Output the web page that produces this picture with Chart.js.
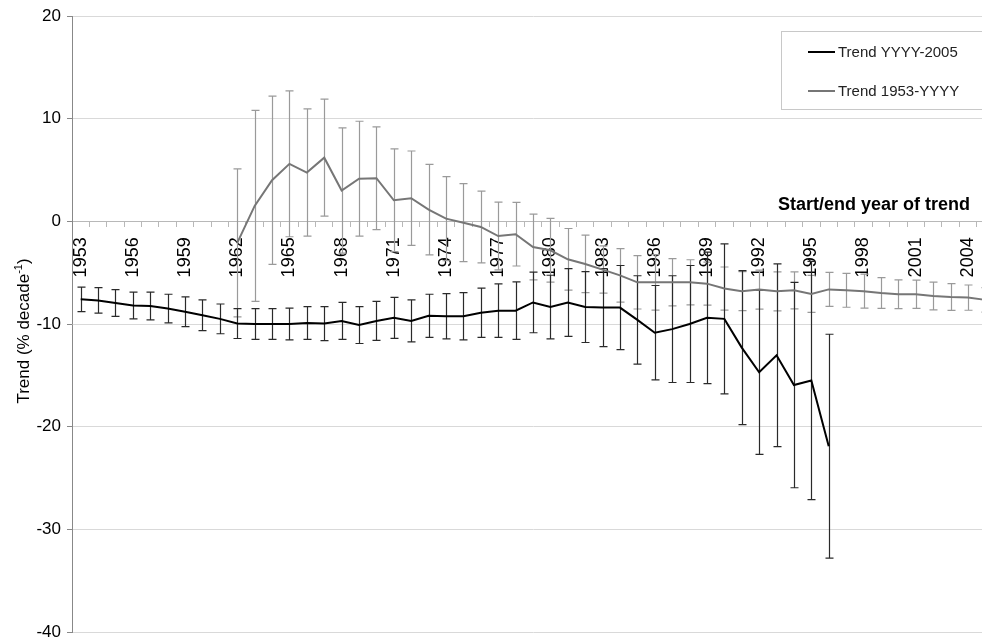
<!DOCTYPE html>
<html><head><meta charset="utf-8">
<script src="https://cdn.jsdelivr.net/npm/chart.js@4.4.1/dist/chart.umd.min.js"></script>
<style>html,body{margin:0;padding:0;overflow:hidden;background:#fff}canvas{display:block}</style>
</head><body>
<canvas id="c" width="1000" height="639"></canvas>
<script>
const years = ['1953','1954','1955','1956','1957','1958','1959','1960','1961','1962','1963','1964','1965','1966','1967','1968','1969','1970','1971','1972','1973','1974','1975','1976','1977','1978','1979','1980','1981','1982','1983','1984','1985','1986','1987','1988','1989','1990','1991','1992','1993','1994','1995','1996','1997','1998','1999','2000','2001','2002','2003','2004','2005'];
const shownTicks = ['1953','1956','1959','1962','1965','1968','1971','1974','1977','1980','1983','1986','1989','1992','1995','1998','2001','2004'];
const yTicks = [20,10,0,-10,-20,-30,-40];

// Trend YYYY-2005 (start year on x), 1953..2005
const trendToEnd = [-7.6,-7.7,-7.95,-8.2,-8.25,-8.5,-8.8,-9.15,-9.5,-9.96,-10.0,-10.0,-10.0,-9.9,-9.96,-9.7,-10.1,-9.7,-9.4,-9.7,-9.2,-9.25,-9.25,-8.9,-8.7,-8.7,-7.9,-8.35,-7.9,-8.35,-8.4,-8.4,-9.6,-10.85,-10.5,-10.0,-9.4,-9.5,-12.3,-14.7,-13.05,-15.95,-15.5,-21.9,null,null,null,null,null,null,null,null,null];
const errToEnd = [1.2,1.25,1.3,1.3,1.35,1.4,1.45,1.5,1.45,1.45,1.5,1.5,1.55,1.6,1.65,1.8,1.8,1.9,2.0,2.05,2.1,2.2,2.3,2.4,2.6,2.8,2.95,3.1,3.3,3.45,3.8,4.1,4.3,4.6,5.2,5.7,6.4,7.3,7.5,8.0,8.9,10.0,11.6,10.9,null,null,null,null,null,null,null,null,null];

// Trend 1953-YYYY (end year on x), 1953..2005
const trendFromStart = [null,null,null,null,null,null,null,null,null,-2.1,1.5,4.0,5.6,4.75,6.2,3.0,4.15,4.2,2.05,2.25,1.14,0.26,-0.13,-0.55,-1.43,-1.25,-2.5,-2.82,-3.7,-4.15,-4.7,-5.26,-5.94,-5.94,-5.94,-5.94,-6.07,-6.55,-6.8,-6.65,-6.82,-6.72,-7.07,-6.63,-6.72,-6.8,-6.98,-7.1,-7.1,-7.27,-7.37,-7.43,-7.65];
const errFromStart = [null,null,null,null,null,null,null,null,null,7.2,9.3,8.2,7.1,6.2,5.7,6.1,5.6,5.0,5.0,4.6,4.4,4.1,3.8,3.5,3.3,3.1,3.2,3.1,3.0,2.8,2.3,2.6,2.6,2.7,2.3,2.2,2.1,2.1,1.9,1.9,1.9,1.8,1.8,1.65,1.65,1.65,1.5,1.4,1.37,1.35,1.3,1.23,1.2];

const FONT = "'Liberation Sans', Arial, sans-serif";

const errorBars = {
  id: 'errorBars',
  beforeDatasetsDraw(chart) {
    const {ctx, scales: {x, y}} = chart;
    chart.data.datasets.slice().reverse().forEach(ds => {
      ctx.save();
      ctx.strokeStyle = ds.errColor;
      ctx.lineWidth = 1.2;
      ds.data.forEach((v, i) => {
        if (v == null) return;
        const e = ds.errors[i];
        const px = Math.round(x.getPixelForValue(i)) + 0.5;
        const yt = y.getPixelForValue(v + e), yb = y.getPixelForValue(v - e);
        ctx.beginPath();
        ctx.moveTo(px, yt); ctx.lineTo(px, yb);
        ctx.moveTo(px - 4, yt); ctx.lineTo(px + 4, yt);
        ctx.moveTo(px - 4, yb); ctx.lineTo(px + 4, yb);
        ctx.stroke();
      });
      ctx.restore();
    });
  }
};

const extras = {
  id: 'extras',
  afterDraw(chart) {
    const ctx = chart.ctx;
    ctx.save();
    // x axis title
    ctx.font = "bold 18px " + FONT;
    ctx.fillStyle = '#000';
    ctx.textAlign = 'right';
    ctx.textBaseline = 'alphabetic';
    ctx.fillText('Start/end year of trend', 970, 210);
    // y axis title with superscript
    ctx.save();
    ctx.translate(24, 331);
    ctx.rotate(-Math.PI / 2);
    const main = 'Trend (% decade', sup = '-1', end = ')';
    ctx.font = "17px " + FONT;
    const w1 = ctx.measureText(main).width, w3 = ctx.measureText(end).width;
    ctx.font = "11px " + FONT;
    const w2 = ctx.measureText(sup).width;
    let sx = -(w1 + w2 + w3) / 2;
    ctx.textAlign = 'left';
    ctx.textBaseline = 'alphabetic';
    ctx.fillStyle = '#000';
    ctx.font = "17px " + FONT;
    ctx.fillText(main, sx, 5);
    ctx.font = "11px " + FONT;
    ctx.fillText(sup, sx + w1, -2);
    ctx.font = "17px " + FONT;
    ctx.fillText(end, sx + w1 + w2, 5);
    ctx.restore();
    // legend box
    ctx.strokeStyle = '#c8c8c8';
    ctx.lineWidth = 1;
    ctx.strokeRect(781.5, 31.5, 230, 78);
    const entries = [[chart.data.datasets[0], 52], [chart.data.datasets[1], 91]];
    entries.forEach(([ds, yy]) => {
      ctx.strokeStyle = ds.borderColor;
      ctx.lineWidth = 2;
      ctx.beginPath(); ctx.moveTo(808, yy); ctx.lineTo(835, yy); ctx.stroke();
      ctx.fillStyle = '#222';
      ctx.font = "15px " + FONT;
      ctx.textAlign = 'left';
      ctx.textBaseline = 'middle';
      ctx.fillText(ds.label, 838, yy + 1);
    });
    ctx.restore();
  }
};

new Chart(document.getElementById('c'), {
  type: 'line',
  data: {
    labels: years,
    datasets: [
      {label: 'Trend YYYY-2005', data: trendToEnd, errors: errToEnd, errColor: '#2a2a2a',
       borderColor: '#000000', borderWidth: 2, pointRadius: 0, tension: 0, spanGaps: false},
      {label: 'Trend 1953-YYYY', data: trendFromStart, errors: errFromStart, errColor: '#9a9a9a',
       borderColor: '#767676', borderWidth: 2, pointRadius: 0, tension: 0, spanGaps: false}
    ]
  },
  options: {
    responsive: false,
    animation: false,
    events: [],
    layout: {padding: {left: 0, right: 6, top: 16, bottom: 7}},
    plugins: {legend: {display: false}, tooltip: {enabled: false}},
    scales: {
      x: {
        type: 'category',
        position: {y: 0},
        offset: true,
        grid: {offset: true, drawOnChartArea: false, drawTicks: true, tickLength: 5, color: '#b8b8b8'},
        border: {color: '#b8b8b8', width: 1},
        ticks: {
          autoSkip: false, minRotation: 90, maxRotation: 90, padding: 11,
          color: '#000', font: {family: FONT, size: 18},
          callback: (v, i) => shownTicks.includes(years[i]) ? years[i] : ''
        },
        afterFit: s => { s.height = 0; s.paddingLeft = 0; s.paddingRight = 0; }
      },
      y: {
        min: -40, max: 20,
        afterBuildTicks: s => { s.ticks = yTicks.map(v => ({value: v})); },
        ticks: {color: '#000', font: {family: FONT, size: 17}, padding: 6},
        grid: {color: '#d9d9d9', tickLength: 5, drawTicks: true, tickColor: '#888'},
        border: {color: '#888', width: 1},
        afterFit: s => { s.width = 72; s.paddingTop = 0; s.paddingBottom = 0; }
      }
    }
  },
  plugins: [errorBars, extras]
});
</script>
</body></html>
